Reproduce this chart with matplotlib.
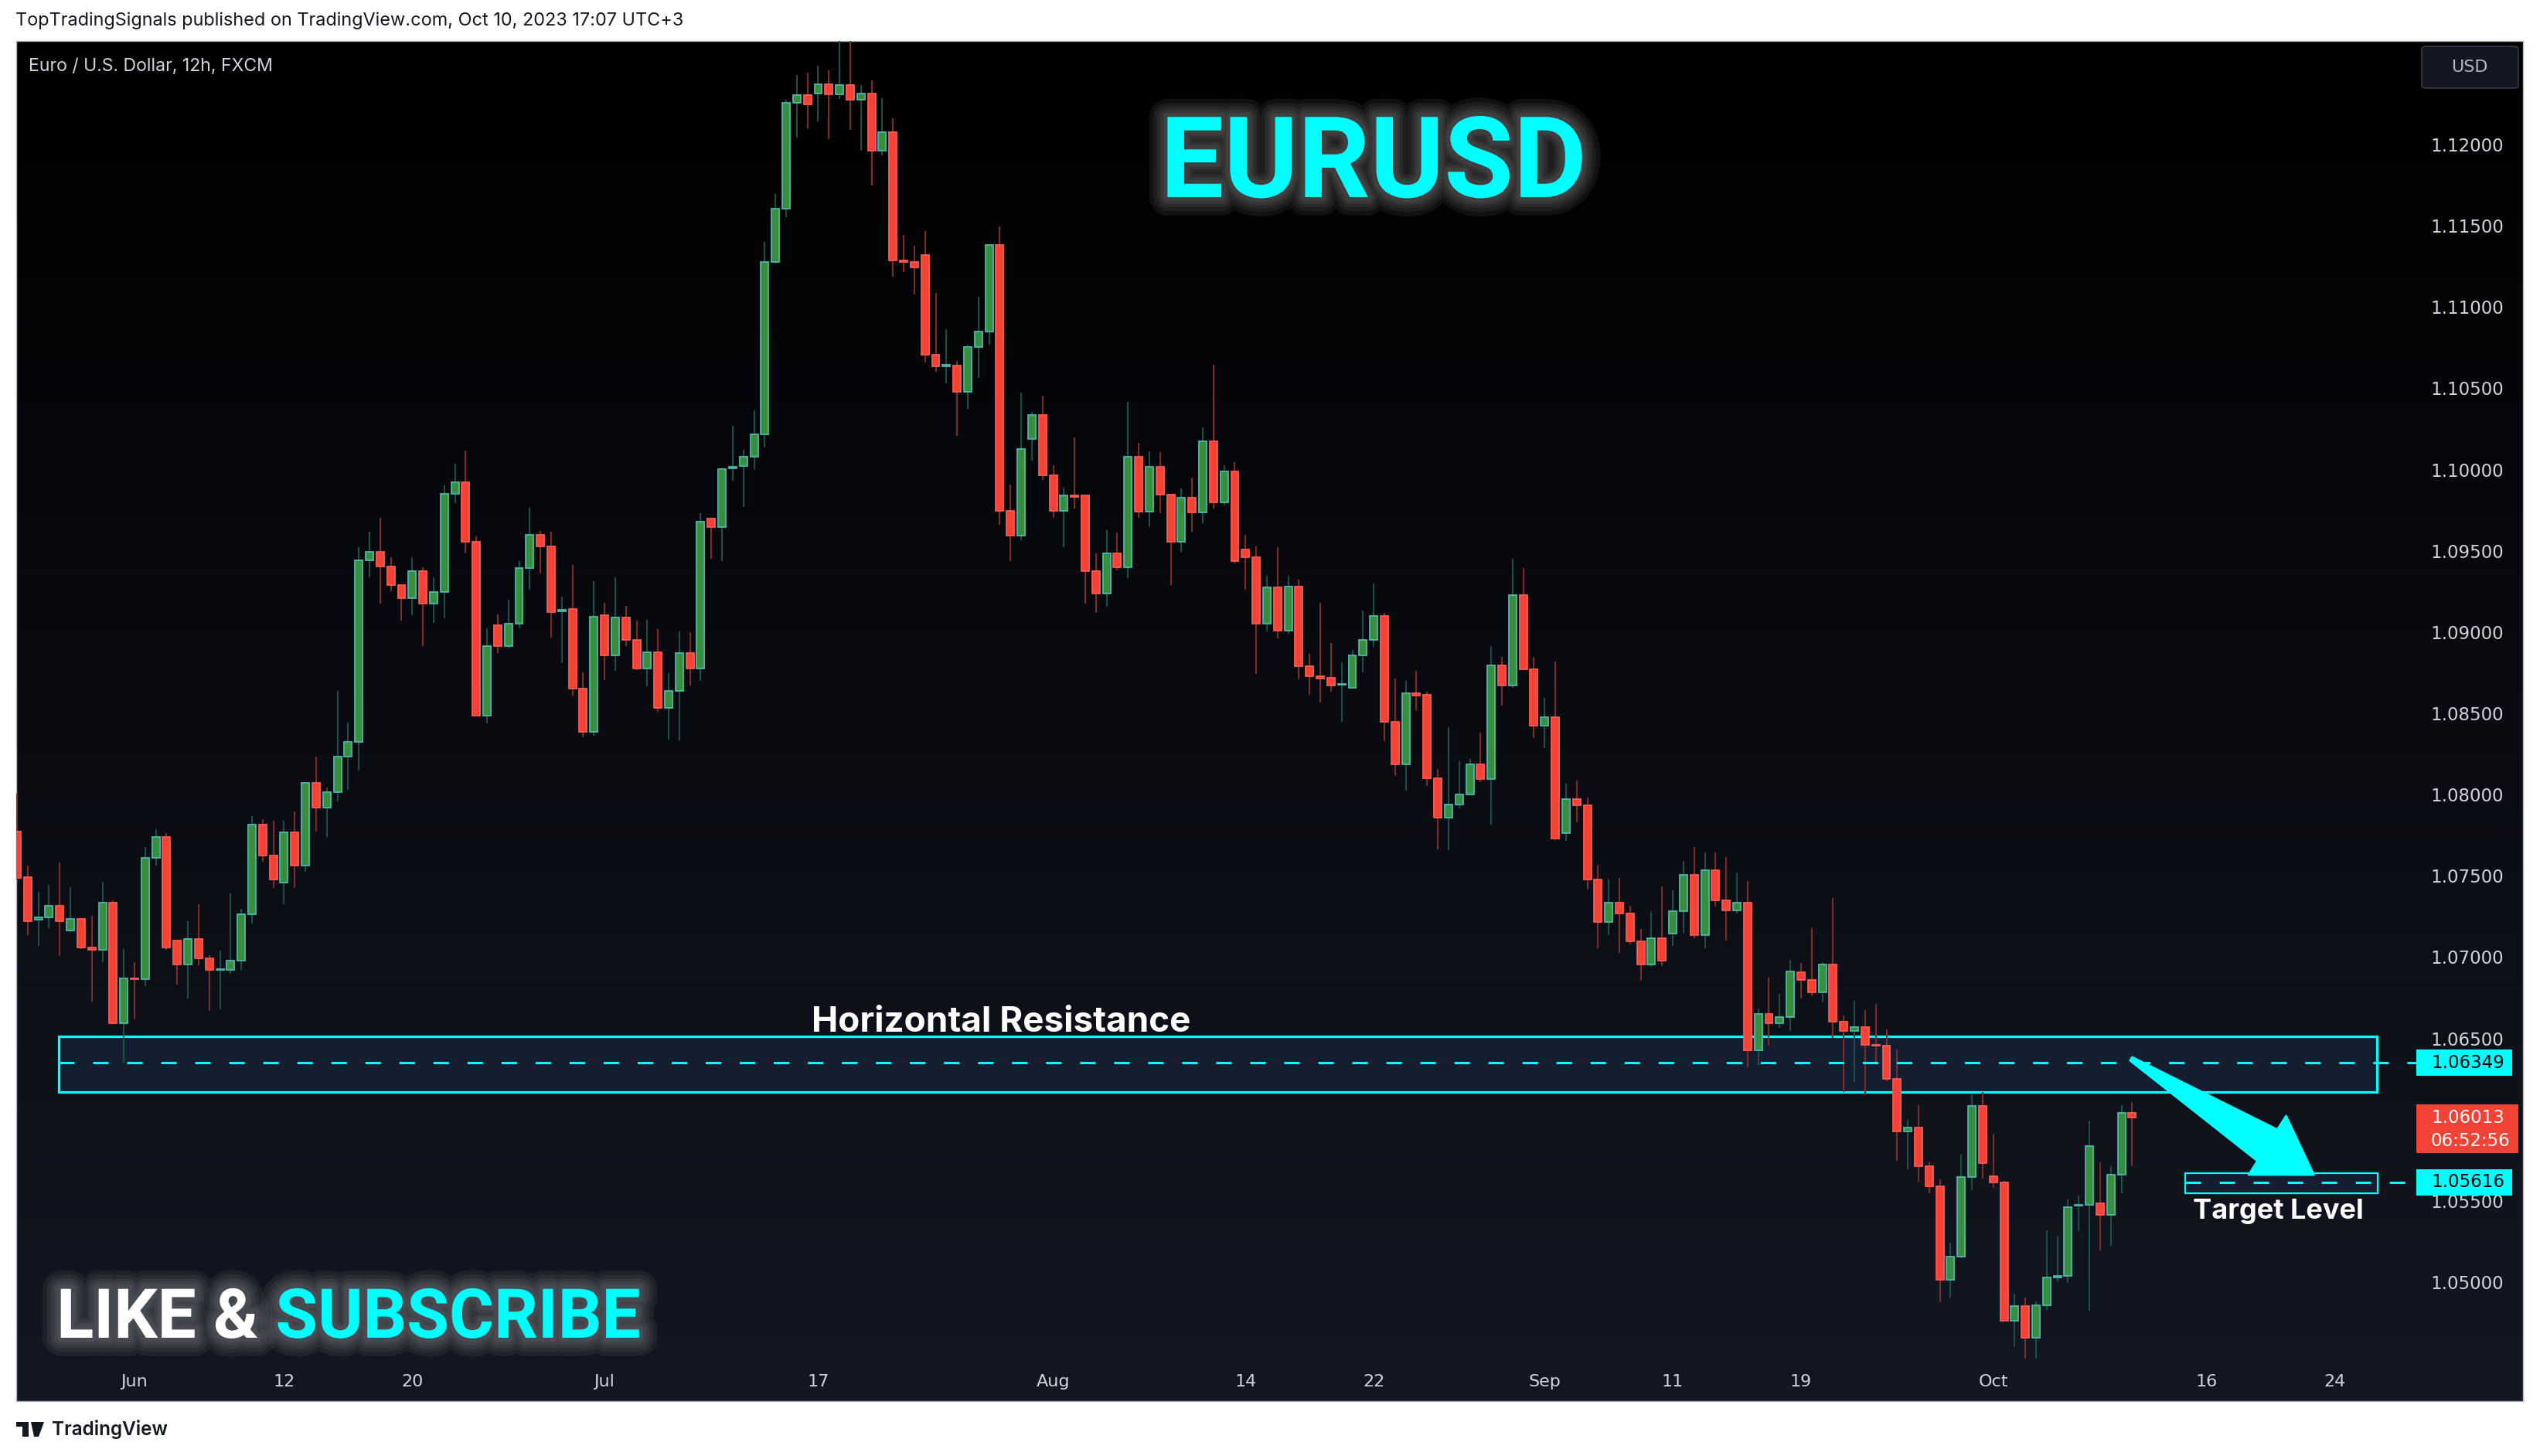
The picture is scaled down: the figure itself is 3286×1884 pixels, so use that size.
import numpy as np
import pandas as pd
import matplotlib
matplotlib.use("Agg")
import matplotlib.pyplot as plt
import matplotlib.patheffects as pe
from matplotlib import transforms
from matplotlib.patches import Rectangle, Polygon, FancyBboxPatch
from matplotlib.colors import LinearSegmentedColormap

plt.rcParams['font.family'] = ['Inter', 'DejaVu Sans']
plt.rcParams['lines.scale_dashes'] = False

# EURUSD 12h candles, May 24 12:00 -> Oct 10 12:00
opens = [1.07774, 1.07494, 1.07230, 1.07247, 1.07315, 1.07166, 1.07234, 1.07060, 1.07044, 1.07336,
         1.06593, 1.06870, 1.06865, 1.07612, 1.07740, 1.07103, 1.06954, 1.07111, 1.06993, 1.06921,
         1.06921, 1.06980, 1.07264, 1.07816, 1.07625, 1.07459, 1.07769, 1.07561, 1.08071, 1.07922,
         1.08016, 1.08232, 1.08326, 1.09442, 1.09493, 1.09404, 1.09289, 1.09209, 1.09374, 1.09175,
         1.09247, 1.09852, 1.09922, 1.09557, 1.08487, 1.09043, 1.08912, 1.09052, 1.09396, 1.09600,
         1.09527, 1.09128, 1.09141, 1.08653, 1.08385, 1.09103, 1.08857, 1.09090, 1.08950, 1.08776,
         1.08878, 1.08534, 1.08636, 1.08869, 1.08776, 1.09697, 1.09646, 1.10007, 1.10020, 1.10079,
         1.10215, 1.11275, 1.11604, 1.12257, 1.12304, 1.12313, 1.12372, 1.12308, 1.12364, 1.12274,
         1.12313, 1.11964, 1.12075, 1.11285, 1.11275, 1.11319, 1.10708, 1.10635, 1.10640, 1.10478,
         1.10752, 1.10848, 1.11383, 1.09748, 1.09595, 1.10190, 1.10334, 1.09965, 1.09744, 1.09841,
         1.09841, 1.09374, 1.09238, 1.09485, 1.09400, 1.10079, 1.09740, 1.10016, 1.09846, 1.09557,
         1.09829, 1.09735, 1.10173, 1.09799, 1.09990, 1.09506, 1.09459, 1.09052, 1.09277, 1.09009,
         1.09281, 1.08788, 1.08729, 1.08720, 1.08674, 1.08657, 1.08857, 1.08950, 1.09098, 1.08449,
         1.08186, 1.08623, 1.08614, 1.08099, 1.07858, 1.07941, 1.08000, 1.08185, 1.08095, 1.08793,
         1.08670, 1.09226, 1.08769, 1.08426, 1.08477, 1.07764, 1.07973, 1.07933, 1.07480, 1.07216,
         1.07334, 1.07267, 1.07097, 1.06956, 1.07117, 1.07145, 1.07283, 1.07504, 1.07137, 1.07535,
         1.07350, 1.07287, 1.07334, 1.06427, 1.06648, 1.06593, 1.06632, 1.06909, 1.06858, 1.06785,
         1.06957, 1.06601, 1.06547, 1.06569, 1.06460, 1.06453, 1.06251, 1.05926, 1.05950, 1.05715,
         1.05591, 1.05016, 1.05159, 1.05649, 1.06086, 1.05654, 1.05616, 1.04764, 1.04851, 1.04660,
         1.04856, 1.05031, 1.05036, 1.05470, 1.05475, 1.05487, 1.05412, 1.05659, 1.06040]
highs = [1.08007, 1.07561, 1.07400, 1.07443, 1.07582, 1.07430, 1.07240, 1.07256, 1.07464, 1.07349,
         1.07048, 1.06967, 1.07676, 1.07786, 1.07765, 1.07103, 1.07222, 1.07324, 1.07010, 1.07039,
         1.07391, 1.07298, 1.07867, 1.07850, 1.07837, 1.07837, 1.07897, 1.08079, 1.08232, 1.08045,
         1.08640, 1.08445, 1.09523, 1.09617, 1.09702, 1.09459, 1.09289, 1.09459, 1.09400, 1.09336,
         1.09901, 1.10037, 1.10117, 1.09591, 1.09022, 1.09107, 1.09200, 1.09438, 1.09765, 1.09621,
         1.09617, 1.09217, 1.09413, 1.08750, 1.09315, 1.09179, 1.09336, 1.09162, 1.09069, 1.09077,
         1.09018, 1.08746, 1.09005, 1.09001, 1.09731, 1.09697, 1.10012, 1.10270, 1.10122, 1.10364,
         1.11400, 1.11697, 1.12274, 1.12427, 1.12444, 1.12487, 1.12457, 1.12760, 1.12740, 1.12368,
         1.12393, 1.12287, 1.12160, 1.11442, 1.11378, 1.11468, 1.11085, 1.10865, 1.10669, 1.10767,
         1.11064, 1.11383, 1.11497, 1.09909, 1.10474, 1.10355, 1.10453, 1.10028, 1.09888, 1.10198,
         1.09841, 1.09485, 1.09625, 1.09612, 1.10415, 1.10164, 1.10113, 1.10109, 1.09846, 1.09884,
         1.09952, 1.10258, 1.10644, 1.10028, 1.10045, 1.09600, 1.09527, 1.09345, 1.09523, 1.09345,
         1.09323, 1.08865, 1.09179, 1.08933, 1.08814, 1.08891, 1.09132, 1.09298, 1.09120, 1.08712,
         1.08699, 1.08763, 1.08631, 1.08158, 1.08414, 1.08205, 1.08221, 1.08383, 1.08915, 1.08848,
         1.09451, 1.09396, 1.08848, 1.08596, 1.08820, 1.08067, 1.08087, 1.07981, 1.07567, 1.07476,
         1.07488, 1.07314, 1.07172, 1.07279, 1.07436, 1.07413, 1.07590, 1.07677, 1.07645, 1.07645,
         1.07614, 1.07519, 1.07468, 1.06684, 1.06873, 1.06774, 1.06983, 1.06962, 1.07178, 1.06969,
         1.07362, 1.06639, 1.06732, 1.06673, 1.06712, 1.06554, 1.06431, 1.05999, 1.06089, 1.05742,
         1.05632, 1.05242, 1.05785, 1.06157, 1.06169, 1.05914, 1.05623, 1.04931, 1.04907, 1.04883,
         1.05320, 1.05286, 1.05511, 1.05531, 1.05996, 1.05739, 1.05715, 1.06089, 1.06106]
lows = [1.07480, 1.07137, 1.07069, 1.07179, 1.07009, 1.07154, 1.07052, 1.06725, 1.06967, 1.06590,
        1.06351, 1.06615, 1.06823, 1.07561, 1.07044, 1.06831, 1.06746, 1.06950, 1.06670, 1.06678,
        1.06899, 1.06921, 1.07209, 1.07587, 1.07426, 1.07324, 1.07426, 1.07527, 1.07774, 1.07740,
        1.07960, 1.08028, 1.08147, 1.09336, 1.09175, 1.09251, 1.09069, 1.09103, 1.08916, 1.09056,
        1.09086, 1.09795, 1.09485, 1.08487, 1.08440, 1.08869, 1.08900, 1.09022, 1.09260, 1.09362,
        1.08967, 1.08810, 1.08610, 1.08351, 1.08360, 1.08704, 1.08763, 1.08916, 1.08767, 1.08665,
        1.08508, 1.08339, 1.08334, 1.08670, 1.08699, 1.09451, 1.09438, 1.09931, 1.09769, 1.10003,
        1.10134, 1.11268, 1.11553, 1.12041, 1.12100, 1.12143, 1.12032, 1.12279, 1.12092, 1.11960,
        1.11746, 1.11935, 1.11187, 1.11213, 1.11077, 1.10657, 1.10601, 1.10529, 1.10207, 1.10376,
        1.10563, 1.10767, 1.09659, 1.09438, 1.09565, 1.10054, 1.09935, 1.09701, 1.09523, 1.09761,
        1.09175, 1.09120, 1.09154, 1.09379, 1.09332, 1.09701, 1.09650, 1.09731, 1.09289, 1.09493,
        1.09617, 1.09672, 1.09761, 1.09778, 1.09425, 1.09260, 1.08742, 1.09005, 1.08963, 1.08988,
        1.08708, 1.08614, 1.08568, 1.08631, 1.08449, 1.08653, 1.08750, 1.08907, 1.08330, 1.08113,
        1.08024, 1.08517, 1.08054, 1.07661, 1.07657, 1.07914, 1.07996, 1.08075, 1.07815, 1.08548,
        1.08659, 1.08769, 1.08347, 1.08284, 1.07720, 1.07716, 1.07831, 1.07417, 1.07054, 1.07133,
        1.07027, 1.07078, 1.06853, 1.06940, 1.06944, 1.07070, 1.07149, 1.07117, 1.07054, 1.07310,
        1.07101, 1.07267, 1.06321, 1.06337, 1.06455, 1.06565, 1.06546, 1.06746, 1.06761, 1.06722,
        1.06501, 1.06169, 1.06234, 1.06149, 1.06339, 1.06237, 1.05749, 1.05696, 1.05620, 1.05545,
        1.04875, 1.04907, 1.05150, 1.05564, 1.05637, 1.05579, 1.04764, 1.04599, 1.04531, 1.04531,
        1.04829, 1.05007, 1.04997, 1.05312, 1.04822, 1.05193, 1.05222, 1.05545, 1.05713]
closes = [1.07485, 1.07222, 1.07243, 1.07315, 1.07222, 1.07234, 1.07060, 1.07044, 1.07336, 1.06593,
          1.06870, 1.06865, 1.07612, 1.07740, 1.07060, 1.06954, 1.07111, 1.06993, 1.06921, 1.06925,
          1.06980, 1.07264, 1.07816, 1.07625, 1.07476, 1.07769, 1.07561, 1.08071, 1.07922, 1.08016,
          1.08232, 1.08326, 1.09442, 1.09493, 1.09404, 1.09289, 1.09209, 1.09374, 1.09175, 1.09247,
          1.09852, 1.09922, 1.09557, 1.08487, 1.08912, 1.08912, 1.09052, 1.09396, 1.09600, 1.09527,
          1.09124, 1.09137, 1.08653, 1.08385, 1.09094, 1.08857, 1.09090, 1.08950, 1.08776, 1.08878,
          1.08534, 1.08636, 1.08869, 1.08776, 1.09680, 1.09646, 1.10003, 1.10016, 1.10079, 1.10215,
          1.11275, 1.11604, 1.12257, 1.12304, 1.12245, 1.12372, 1.12308, 1.12364, 1.12274, 1.12313,
          1.11964, 1.12075, 1.11285, 1.11275, 1.11243, 1.10708, 1.10635, 1.10644, 1.10478, 1.10752,
          1.10848, 1.11383, 1.09748, 1.09595, 1.10126, 1.10334, 1.09965, 1.09744, 1.09841, 1.09833,
          1.09374, 1.09238, 1.09485, 1.09400, 1.10079, 1.09740, 1.10016, 1.09846, 1.09557, 1.09829,
          1.09735, 1.10173, 1.09799, 1.09990, 1.09438, 1.09459, 1.09052, 1.09277, 1.09009, 1.09281,
          1.08788, 1.08729, 1.08716, 1.08670, 1.08682, 1.08857, 1.08950, 1.09098, 1.08449, 1.08186,
          1.08623, 1.08610, 1.08101, 1.07858, 1.07941, 1.08000, 1.08185, 1.08095, 1.08793, 1.08670,
          1.09226, 1.08769, 1.08426, 1.08477, 1.07728, 1.07973, 1.07933, 1.07480, 1.07216, 1.07334,
          1.07267, 1.07097, 1.06956, 1.07117, 1.06979, 1.07283, 1.07504, 1.07137, 1.07535, 1.07350,
          1.07287, 1.07334, 1.06427, 1.06648, 1.06593, 1.06632, 1.06912, 1.06858, 1.06785, 1.06957,
          1.06601, 1.06547, 1.06569, 1.06460, 1.06453, 1.06251, 1.05926, 1.05950, 1.05715, 1.05591,
          1.05016, 1.05159, 1.05649, 1.06086, 1.05734, 1.05616, 1.04764, 1.04851, 1.04660, 1.04856,
          1.05031, 1.05036, 1.05463, 1.05475, 1.05839, 1.05412, 1.05659, 1.06040, 1.06013]

tick_dates = ["2023-06-01", "2023-06-12", "2023-06-20", "2023-07-03", "2023-07-17", "2023-08-01",
              "2023-08-14", "2023-08-22", "2023-09-01", "2023-09-11", "2023-09-19", "2023-10-02",
              "2023-10-16", "2023-10-24"]
tick_labels = ["Jun", "12", "20", "Jul", "17", "Aug", "14", "22", "Sep", "11", "19", "Oct", "16", "24"]
price_ticks = [1.050, 1.055, 1.060, 1.065, 1.070, 1.075, 1.080, 1.085, 1.090, 1.095,
               1.100, 1.105, 1.110, 1.115, 1.120]

resist_level = 1.06349
resist_zone = (1.06170, 1.06512)
target_level = 1.05616
target_zone = (1.05546, 1.05672)
last_price = 1.06013
countdown = "06:52:56"

# 12h bars, weekdays only
times = pd.date_range("2023-05-24 12:00", "2023-10-31", freq="12h")
times = times[times.dayofweek < 5]
tick_pos = times.get_indexer(pd.to_datetime(tick_dates))

o = np.array(opens); h = np.array(highs); l = np.array(lows); c = np.array(closes)
x = np.arange(len(o))
up = c >= o

W, H = 3286, 1884
fig = plt.figure(figsize=(W / 100, H / 100), dpi=100, facecolor="white")

def box(x0, y0, x1, y1):
    return [x0 / W, 1 - y1 / H, (x1 - x0) / W, (y1 - y0) / H]

# dark gradient background
bg = fig.add_axes(box(21, 53, 3264, 1813))
cmap = LinearSegmentedColormap.from_list("tv", ["#000000", "#131722"])
bg.imshow(np.linspace(0, 1, 256).reshape(-1, 1), cmap=cmap, aspect="auto", extent=[0, 1, 0, 1])
bg.set_xticks([]); bg.set_yticks([])
for s in bg.spines.values():
    s.set_color("#b2b5be"); s.set_linewidth(1.0)

ax = fig.add_axes(box(21, 53, 3122, 1813))
ax.patch.set_alpha(0)
for s in ax.spines.values():
    s.set_visible(False)
ax.set_xlim(-0.07, 224.31)
ax.set_ylim(1.042679, 1.126372)
ppx = (1.126372 - 1.042679) / 1760  # price per pixel

# candles
wick_col = np.where(up, "#1c4f47", "#7e2b2b")
ax.vlines(x, l, h, colors=wick_col, linewidth=1.5, zorder=3)
ax.bar(x, np.abs(c - o), bottom=np.minimum(o, c), width=0.72,
       color=np.where(up, "#388e3c", "#f44336"), edgecolor=np.where(up, "#4db6ac", "#f75c52"),
       linewidth=1.3, zorder=4)

scale_font = ["DejaVu Sans"]

# x labels
for p, lab in zip(tick_pos, tick_labels):
    ax.text(p, 0.0142, lab, transform=ax.get_xaxis_transform(), ha="center", va="center",
            fontsize=16, color="#d1d4dc", family=scale_font)
ax.set_xticks([])

# y labels on the right
ax.yaxis.tick_right()
ax.set_yticks(price_ticks)
ax.set_yticklabels([f"{p:.5f}" for p in price_ticks], family=scale_font)
ax.tick_params(axis="y", length=0, pad=16.5, labelsize=16.5, labelcolor="#d1d4dc")

# resistance zone
ax.add_patch(Rectangle((3.9, resist_zone[0]), 217.0, resist_zone[1] - resist_zone[0],
                       facecolor="#151d30", edgecolor="#00ffff", linewidth=2.3, zorder=1))
ax.plot([3.9, 224.6], [resist_level, resist_level], color="#00ffff", linewidth=2.2,
        dashes=(14.4, 17.3), zorder=5, clip_on=False)
ax.text(92.1, 1.06541, "Horizontal Resistance", ha="center", va="baseline", fontsize=33,
        fontweight="bold", color="white", zorder=6)

# target zone
ax.add_patch(Rectangle((203.0, target_zone[0]), 18.0, target_zone[1] - target_zone[0],
                       facecolor="#151d30", edgecolor="#00ffff", linewidth=1.6, zorder=1))
ax.plot([203.0, 224.6], [target_level, target_level], color="#00ffff", linewidth=2.2,
        dashes=(14.4, 17.3), zorder=5, clip_on=False)
ax.text(211.7, 1.05390, "Target Level", ha="center", va="baseline", fontsize=26,
        fontweight="bold", color="white", zorder=6)

# arrow from resistance to target
tail = ax.transData.transform((197.9, 1.06374))
tip = ax.transData.transform((215.0, 1.05661))
u = (tip - tail) / np.hypot(*(tip - tail))
nv = np.array([-u[1], u[0]])
base = tip - 71 * u
pts = [tail + 2.5 * nv, base + 24 * nv, base + 45 * nv, tip, base - 45 * nv, base - 24 * nv, tail - 2.5 * nv]
fig.add_artist(Polygon(pts, closed=True, facecolor="#00ffff", edgecolor="#00ffff", linewidth=2,
                       joinstyle="round", transform=transforms.IdentityTransform(), zorder=3))

# glowing titles
title_font = ["Liberation Sans Narrow", "Roboto", "DejaVu Sans"]
glow = [pe.Stroke(linewidth=w, foreground="#9a9a9a", alpha=0.10) for w in (34, 26, 19, 13, 8)] + [pe.Normal()]
ax.text(0.5663, 0.8852, "EURUSD", transform=ax.transAxes, ha="center", va="baseline",
        fontsize=105, fontweight="bold", family=title_font,
        color="#00ffff", path_effects=glow, zorder=6)
t1 = ax.text(0.0168, 0.0466, "LIKE &", transform=ax.transAxes, ha="left", va="baseline",
             fontsize=64, fontweight="bold", family=title_font,
             color="white", path_effects=glow, zorder=6)
ax.annotate("SUBSCRIBE", xy=(1, 0), xycoords=t1, xytext=(16, 0), textcoords="offset points",
            ha="left", va="bottom", fontsize=64, fontweight="bold", family=title_font,
            color="#00ffff", path_effects=glow, zorder=6)

ax.text(0.0052, 0.9811, "Euro / U.S. Dollar, 12h, FXCM", transform=ax.transAxes, ha="left",
        va="center", fontsize=16.6, color="#d1d4dc")

# price tags on the scale
bl = transforms.blended_transform_factory(fig.transFigure, ax.transData)
for lvl in (resist_level, target_level):
    fig.add_artist(Rectangle((3126 / W, lvl - 17 * ppx), 124 / W, 34 * ppx, transform=bl,
                             facecolor="#00ffff", edgecolor="none", zorder=3))
    fig.text(3145 / W, lvl, f"{lvl:.5f}", transform=bl, va="center", ha="left", fontsize=16.5,
             color="#000000", family=scale_font, zorder=4)
fig.add_artist(Rectangle((3126 / W, last_price - 46 * ppx), 132 / W, 63 * ppx, transform=bl,
                         facecolor="#f44336", edgecolor="none", zorder=3))
fig.text(3145 / W, last_price, f"{last_price:.5f}", transform=bl, va="center", ha="left",
         fontsize=16.5, color="white", family=scale_font, zorder=4)
fig.text(3145 / W, last_price - 30 * ppx, countdown, transform=bl, va="center", ha="left",
         fontsize=16.5, color="white", family=scale_font, zorder=4)

# USD button
fig.add_artist(FancyBboxPatch((3133 / W, 1 - 114 / H), 125 / W, 54 / H,
                              boxstyle="round,pad=0,rounding_size=0.002",
                              facecolor="#131722", edgecolor="#363a45", linewidth=1.2, zorder=3))
fig.text(3195 / W, 1 - 87 / H, "USD", ha="center", va="center", fontsize=16, color="#b2b5be",
         family=scale_font, zorder=4)

# header / footer
fig.text(20 / W, 1 - 27 / H, "TopTradingSignals published on TradingView.com, Oct 10, 2023 17:07 UTC+3",
         ha="left", va="center", fontsize=16.9, color="#131722")
tv = "#131722"
fig.add_artist(Rectangle((21 / W, 1 - 1846 / H), 16 / W, 6 / H, facecolor=tv, edgecolor="none"))
fig.add_artist(Rectangle((29 / W, 1 - 1859 / H), 8 / W, 19 / H, facecolor=tv, edgecolor="none"))
fig.add_artist(Polygon([(40 / W, 1 - 1840 / H), (57 / W, 1 - 1840 / H), (50 / W, 1 - 1859 / H),
                        (44 / W, 1 - 1859 / H)], closed=True, transform=fig.transFigure,
                       facecolor=tv, edgecolor="none"))
fig.text(67 / W, 1 - 1849 / H, "TradingView", ha="left", va="center", fontsize=17.5,
         fontweight="semibold", color=tv)

fig.savefig("out.png", dpi=100, facecolor="white")
